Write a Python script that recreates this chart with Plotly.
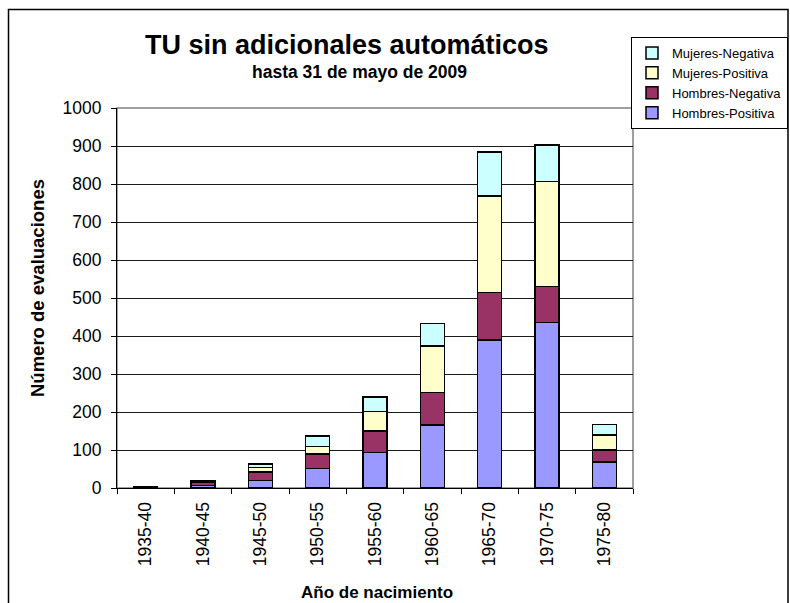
import plotly.graph_objects as go

categories = ["1935-40", "1940-45", "1945-50", "1950-55", "1955-60",
              "1960-65", "1965-70", "1970-75", "1975-80"]
hombres_positiva = [2, 7, 20, 51, 93, 166, 389, 436, 69]
hombres_negativa = [1, 9, 22, 38, 57, 85, 125, 94, 31]
mujeres_positiva = [0, 1, 12, 20, 51, 123, 254, 276, 39]
mujeres_negativa = [0, 1, 9, 28, 39, 59, 116, 97, 28]

series = [
    ("Hombres-Positiva", hombres_positiva, "#9999FF"),
    ("Hombres-Negativa", hombres_negativa, "#993366"),
    ("Mujeres-Positiva", mujeres_positiva, "#FFFFCC"),
    ("Mujeres-Negativa", mujeres_negativa, "#CCFFFF"),
]

FONT = "Liberation Sans, Arial, sans-serif"

fig = go.Figure()
for name, vals, color in series:
    fig.add_trace(go.Bar(
        x=categories, y=vals, name=name,
        marker=dict(color=color, line=dict(color="black", width=1.5)),
    ))

W, H = 790, 603
PL, PR, PT, PB = 117, 633, 108, 488          # plot area in page pixels
L, T = PL, PT
R, B = W - PR, H - PB
pw, ph = PR - PL, PB - PT


def px(x):
    return (x - PL) / pw


def py(y):
    return (PB - y) / ph


fig.update_layout(
    width=W, height=H, autosize=False,
    margin=dict(l=L, r=R, t=T, b=B, autoexpand=False),
    barmode="stack", bargap=0.58,
    paper_bgcolor="white", plot_bgcolor="white",
    font=dict(family=FONT, color="black", size=17),
    showlegend=True,
    legend=dict(
        traceorder="reversed",
        xref="container", yref="container",
        x=788 / W, y=1 - 37 / H, xanchor="right", yanchor="top",
        bordercolor="black", borderwidth=1, bgcolor="white",
        font=dict(family=FONT, size=13, color="black"),
        itemwidth=30, tracegroupgap=0,
    ),
    xaxis=dict(
        type="category", showline=True, linecolor="black", linewidth=1,
        ticks="outside", ticklen=5, tickcolor="black", tickson="boundaries",
        tickangle=-90, tickfont=dict(size=17.5), showgrid=False,
        ticklabelstandoff=6, automargin=False,
    ),
    yaxis=dict(
        range=[0, 1000], dtick=100, showline=True, linecolor="black", linewidth=1,
        ticks="outside", ticklen=5, tickcolor="black",
        showgrid=True, gridcolor="#1a1a1a", gridwidth=1,
        tickfont=dict(size=17.5), zeroline=False, ticklabelstandoff=6,
        automargin=False,
    ),
    shapes=[
        dict(type="rect", xref="paper", yref="paper", x0=0, x1=1, y0=0, y1=1,
             line=dict(color="#808080", width=1.5), layer="below"),
        dict(type="rect", xref="paper", yref="paper",
             x0=px(8.5), x1=px(788), y0=py(640), y1=py(9.5),
             line=dict(color="black", width=1.5), layer="below"),
    ],
    annotations=[
        dict(text="<b>TU sin adicionales automáticos</b>", xref="paper", yref="paper",
             x=px(347), y=py(45), xanchor="center", yanchor="middle",
             showarrow=False, font=dict(size=27, family=FONT)),
        dict(text="<b>hasta 31 de mayo de 2009</b>", xref="paper", yref="paper",
             x=px(359), y=py(72), xanchor="center", yanchor="middle",
             showarrow=False, font=dict(size=17.5, family=FONT)),
        dict(text="<b>Año de nacimiento</b>", xref="paper", yref="paper",
             x=px(377), y=py(592), xanchor="center", yanchor="middle",
             showarrow=False, font=dict(size=17, family=FONT)),
        dict(text="<b>Número de evaluaciones</b>", xref="paper", yref="paper",
             x=px(37), y=py(288), xanchor="center", yanchor="middle",
             textangle=-90, showarrow=False, font=dict(size=18.5, family=FONT)),
    ],
)

fig.write_html(
    "out.html",
    config={"displayModeBar": False},
    post_script="document.body.style.margin='0px';"
                "document.documentElement.style.overflow='hidden';"
                "document.body.style.overflow='hidden';",
)
